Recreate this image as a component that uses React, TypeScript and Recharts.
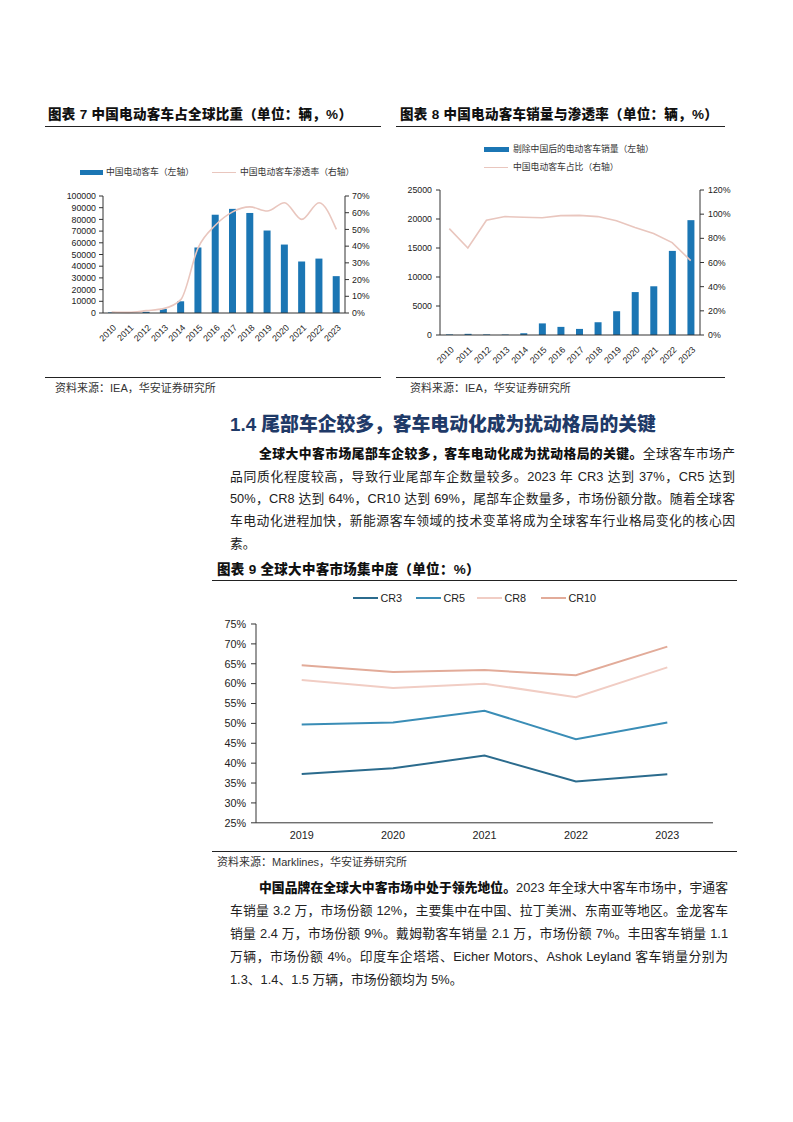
import React from "react";
import { ComposedChart, Bar, Line, XAxis, YAxis } from "recharts";

// 图表7 / 图表8 years
const years = ["2010", "2011", "2012", "2013", "2014", "2015", "2016", "2017", "2018", "2019", "2020", "2021", "2022", "2023"];
// 中国电动客车（辆）
const chinaEBus = [500, 500, 1000, 3500, 10000, 56000, 84000, 89000, 85500, 70500, 58500, 44000, 46500, 31500];
// 中国电动客车渗透率（%）
const chinaPenetration = [0.6, 0.4, 1.4, 2.6, 8, 39, 52.5, 60.5, 63.5, 61, 66, 56, 66, 50];
// 剔除中国后的电动客车销量（辆）
const exChinaEBus = [100, 200, 100, 80, 300, 2000, 1400, 1050, 2200, 4100, 7400, 8400, 14500, 19800];
// 中国电动客车占比（%）
const chinaShare = [88, 72, 95, 98, 97.5, 97, 98.8, 99, 98, 94.5, 89, 84, 76.5, 61.5];

// 图表9
const crYears = ["2019", "2020", "2021", "2022", "2023"];
const cr3 = [37.3, 38.7, 41.9, 35.4, 37.2];
const cr5 = [49.7, 50.2, 53.2, 46.0, 50.2];
const cr8 = [60.9, 58.9, 60.0, 56.6, 64.1];
const cr10 = [64.6, 62.9, 63.4, 62.1, 69.3];

const ticks7Left = [0, 10000, 20000, 30000, 40000, 50000, 60000, 70000, 80000, 90000, 100000];
const ticks7Right = [0, 10, 20, 30, 40, 50, 60, 70];
const ticks8Left = [0, 5000, 10000, 15000, 20000, 25000];
const ticks8Right = [0, 20, 40, 60, 80, 100, 120];
const ticks9 = [25, 30, 35, 40, 45, 50, 55, 60, 65, 70, 75];

const BLUE = "#1b76b4";
const PINK = "#e9c6be";
const AXIS = "#333";
const LATIN = '"Liberation Sans", Arial, "Noto Sans CJK SC", sans-serif';
const CJK = '"Liberation Sans", "Noto Sans CJK SC", sans-serif';

const data7 = years.map((y, i) => ({ year: y, ev: chinaEBus[i], rate: chinaPenetration[i] }));
const data8 = years.map((y, i) => ({ year: y, ev: exChinaEBus[i], rate: chinaShare[i] }));
const data9 = crYears.map((y, i) => ({ year: y, cr3: cr3[i], cr5: cr5[i], cr8: cr8[i], cr10: cr10[i] }));

// category boundaries (Excel-style tick marks between categories)
const edges = (n: number) => Array.from({ length: n + 1 }, (_, i) => i);

const SlantTick = (props: any) => {
  const { x, y, payload } = props;
  const tx = x + 3;
  const ty = y + 4;
  return (
    <text
      x={tx}
      y={ty}
      transform={`rotate(-45 ${tx} ${ty})`}
      textAnchor="end"
      dy="0.35em"
      fontSize={8.8}
      fontFamily={LATIN}
      fill="#222"
    >
      {payload.value}
    </text>
  );
};

const tickStyle = { fontSize: 8.8, fill: "#222", fontFamily: LATIN };

const abs = (left: number, top: number, extra: React.CSSProperties = {}): React.CSSProperties => ({
  position: "absolute",
  left,
  top,
  ...extra,
});

function Title({ left, top, text, lineLeft, lineWidth, gap = 20 }: { left: number; top: number; text: string; lineLeft: number; lineWidth: number; gap?: number }) {
  return (
    <>
      <div style={abs(left, top, { fontSize: 13.5, fontWeight: 900, letterSpacing: 0.3, lineHeight: "18px", whiteSpace: "nowrap", fontFamily: CJK, color: "#111" })}>
        {text}
      </div>
      <div style={abs(lineLeft, top + gap, { width: lineWidth, height: 1, background: "#222" })} />
    </>
  );
}

function Source({ left, top, text, lineLeft, lineWidth }: { left: number; top: number; text: string; lineLeft: number; lineWidth: number }) {
  return (
    <>
      <div style={abs(lineLeft, top - 11.5, { width: lineWidth, height: 1, background: "#222" })} />
      <div style={abs(left, top - 7, { fontSize: 11, lineHeight: "14px", whiteSpace: "nowrap", fontFamily: CJK, color: "#333" })}>{text}</div>
    </>
  );
}

function ChinaShareChart() {
  return (
    <div style={abs(45, 185)}>
      <ComposedChart width={340} height={165} data={data7} margin={{ top: 11, right: 0, bottom: 0, left: 0 }}>
        <XAxis xAxisId={0} type="number" domain={[0, years.length]} ticks={edges(years.length)} allowDataOverflow tick={false} axisLine={{ stroke: AXIS }} height={1} tickSize={4} tickLine={{ stroke: AXIS }} />
        <XAxis xAxisId={1} dataKey="year" scale="band" interval={0} tickLine={false} axisLine={false} height={36} tick={SlantTick} />
        <YAxis yAxisId="l" domain={[0, 100000]} ticks={ticks7Left} interval={0} width={58} tickSize={4} tickMargin={3} tick={tickStyle} axisLine={{ stroke: AXIS }} tickLine={{ stroke: AXIS }} />
        <YAxis yAxisId="r" orientation="right" domain={[0, 70]} ticks={ticks7Right} interval={0} width={40} tickSize={4} tickMargin={3} tick={tickStyle} tickFormatter={(v) => `${v}%`} axisLine={{ stroke: AXIS }} tickLine={{ stroke: AXIS }} />
        <Bar xAxisId={1} yAxisId="l" dataKey="ev" fill={BLUE} barSize={7} isAnimationActive={false} />
        <Line xAxisId={1} yAxisId="r" dataKey="rate" type="monotone" stroke={PINK} strokeWidth={1.6} dot={false} isAnimationActive={false} />
      </ComposedChart>
    </div>
  );
}

function ExChinaChart() {
  return (
    <div style={abs(395, 180)}>
      <ComposedChart width={345} height={185} data={data8} margin={{ top: 10, right: 0, bottom: 0, left: 0 }}>
        <XAxis xAxisId={0} type="number" domain={[0, years.length]} ticks={edges(years.length)} allowDataOverflow tick={false} axisLine={{ stroke: AXIS }} height={1} tickSize={4} tickLine={{ stroke: AXIS }} />
        <XAxis xAxisId={1} dataKey="year" scale="band" interval={0} tickLine={false} axisLine={false} height={29} tick={SlantTick} />
        <YAxis yAxisId="l" domain={[0, 25000]} ticks={ticks8Left} interval={0} width={45} tickSize={4} tickMargin={4} tick={tickStyle} axisLine={{ stroke: AXIS }} tickLine={{ stroke: AXIS }} />
        <YAxis yAxisId="r" orientation="right" domain={[0, 120]} ticks={ticks8Right} interval={0} width={40} tickSize={4} tickMargin={4} tick={tickStyle} tickFormatter={(v) => `${v}%`} axisLine={{ stroke: AXIS }} tickLine={{ stroke: AXIS }} />
        <Bar xAxisId={1} yAxisId="l" dataKey="ev" fill={BLUE} barSize={7} isAnimationActive={false} />
        <Line xAxisId={1} yAxisId="r" dataKey="rate" type="linear" stroke={PINK} strokeWidth={1.6} dot={false} isAnimationActive={false} />
      </ComposedChart>
    </div>
  );
}

const crSeries = [
  { key: "cr3", name: "CR3", color: "#2b6b8d" },
  { key: "cr5", name: "CR5", color: "#3a8db6" },
  { key: "cr8", name: "CR8", color: "#f1cdc4" },
  { key: "cr10", name: "CR10", color: "#e2ab99" },
];
const crLegendX = [353, 416, 477, 541];

function ConcentrationChart() {
  const t = { fontSize: 10.8, fill: "#222", fontFamily: LATIN };
  return (
    <div style={abs(212, 613.5)}>
      <ComposedChart width={525} height={233.8} data={data9} margin={{ top: 10, right: 24, bottom: 0, left: 0 }}>
        <XAxis xAxisId={0} type="number" domain={[0, crYears.length]} ticks={edges(crYears.length)} allowDataOverflow tick={false} axisLine={{ stroke: AXIS }} height={1} tickSize={5} tickLine={{ stroke: AXIS }} />
        <XAxis xAxisId={1} dataKey="year" scale="band" interval={0} tickLine={false} axisLine={false} height={24} tick={t} tickSize={5} tickMargin={3} />
        <YAxis domain={[25, 75]} ticks={ticks9} interval={0} width={44} tickSize={5} tickMargin={5} tick={t} tickFormatter={(v) => `${v}%`} axisLine={{ stroke: AXIS }} tickLine={{ stroke: AXIS }} />
        {crSeries.map((s) => (
          <Line key={s.key} xAxisId={1} dataKey={s.key} type="linear" stroke={s.color} strokeWidth={2} dot={false} isAnimationActive={false} />
        ))}
      </ComposedChart>
    </div>
  );
}

const bodyText: React.CSSProperties = {
  position: "absolute",
  fontSize: 12.8,
  lineHeight: "18px",
  fontFamily: CJK,
  color: "#222",
  textAlign: "justify",
};

function Para({ top, step, right, lines, lead }: { top: number; step: number; right: number; lines: string[]; lead: string }) {
  return (
    <>
      {lines.map((ln, i) => {
        const last = i === lines.length - 1;
        const left = i === 0 ? 259 : 230;
        const style: React.CSSProperties = {
          ...bodyText,
          left,
          width: right - left,
          top: top + i * step - 9,
          textAlignLast: last ? "left" : "justify",
        };
        return (
          <div key={i} style={style}>
            {i === 0 ? (
              <>
                <span style={{ fontWeight: 900, color: "#111" }}>{lead}</span>
                {ln}
              </>
            ) : (
              ln
            )}
          </div>
        );
      })}
    </>
  );
}

const para1Lead = "全球大中客市场尾部车企较多，客车电动化成为扰动格局的关键。";
const para1 = [
  "全球客车市场产",
  "品同质化程度较高，导致行业尾部车企数量较多。2023 年 CR3 达到 37%，CR5 达到",
  "50%，CR8 达到 64%，CR10 达到 69%，尾部车企数量多，市场份额分散。随着全球客",
  "车电动化进程加快，新能源客车领域的技术变革将成为全球客车行业格局变化的核心因",
  "素。",
];
const para2Lead = "中国品牌在全球大中客市场中处于领先地位。";
const para2 = [
  "2023 年全球大中客车市场中，宇通客",
  "车销量 3.2 万，市场份额 12%，主要集中在中国、拉丁美洲、东南亚等地区。金龙客车",
  "销量 2.4 万，市场份额 9%。戴姆勒客车销量 2.1 万，市场份额 7%。丰田客车销量 1.1",
  "万辆，市场份额 4%。印度车企塔塔、Eicher Motors、Ashok Leyland 客车销量分别为",
  "1.3、1.4、1.5 万辆，市场份额均为 5%。",
];

export default function App() {
  const legendText: React.CSSProperties = { fontSize: 8.8, lineHeight: "12px", whiteSpace: "nowrap", fontFamily: CJK, color: "#333" };
  return (
    <div style={{ position: "absolute", left: 0, top: 0, width: 793, height: 1122, background: "#fff", overflow: "hidden" }}>
      {/* 图表7 */}
      <Title left={48} top={106} text="图表 7 中国电动客车占全球比重（单位：辆，%）" lineLeft={45} lineWidth={336} />
      <div style={abs(80, 169.5, { width: 23, height: 5, background: BLUE })} />
      <div style={abs(106, 166, legendText)}>中国电动客车（左轴）</div>
      <div style={abs(212, 171.5, { width: 24, height: 1.5, background: PINK })} />
      <div style={abs(240, 166, legendText)}>中国电动客车渗透率（右轴）</div>
      <ChinaShareChart />
      <Source left={55} top={388} text="资料来源：IEA，华安证券研究所" lineLeft={45} lineWidth={336} />

      {/* 图表8 */}
      <Title left={400} top={106} text="图表 8 中国电动客车销量与渗透率（单位：辆，%）" lineLeft={396} lineWidth={329} />
      <div style={abs(484, 146.5, { width: 25, height: 5, background: BLUE })} />
      <div style={abs(513, 143, legendText)}>剔除中国后的电动客车销量（左轴）</div>
      <div style={abs(484, 166.5, { width: 24, height: 1.5, background: PINK })} />
      <div style={abs(513, 161, legendText)}>中国电动客车占比（右轴）</div>
      <ExChinaChart />
      <Source left={410} top={388} text="资料来源：IEA，华安证券研究所" lineLeft={396} lineWidth={329} />

      {/* 正文 */}
      <div style={abs(230, 414, { fontSize: 18.8, fontWeight: 900, lineHeight: "22px", color: "#1f3a68", whiteSpace: "nowrap", fontFamily: CJK })}>
        1.4 尾部车企较多，客车电动化成为扰动格局的关键
      </div>
      <Para top={454.3} step={22.3} right={735} lines={para1} lead={para1Lead} />

      {/* 图表9 */}
      <Title left={217} top={561} text="图表 9 全球大中客市场集中度（单位：%）" lineLeft={212} lineWidth={525} gap={18.5} />
      {crSeries.map((s, i) => (
        <React.Fragment key={s.key}>
          <div style={abs(crLegendX[i], 597.3, { width: 25, height: 2, background: s.color })} />
          <div style={abs(crLegendX[i] + 27.5, 591.3, { fontSize: 10.8, lineHeight: "14px", fontFamily: LATIN, color: "#222" })}>{s.name}</div>
        </React.Fragment>
      ))}
      <ConcentrationChart />
      <Source left={217} top={862} text="资料来源：Marklines，华安证券研究所" lineLeft={212} lineWidth={525} />

      <Para top={888} step={22.9} right={728} lines={para2} lead={para2Lead} />
    </div>
  );
}
